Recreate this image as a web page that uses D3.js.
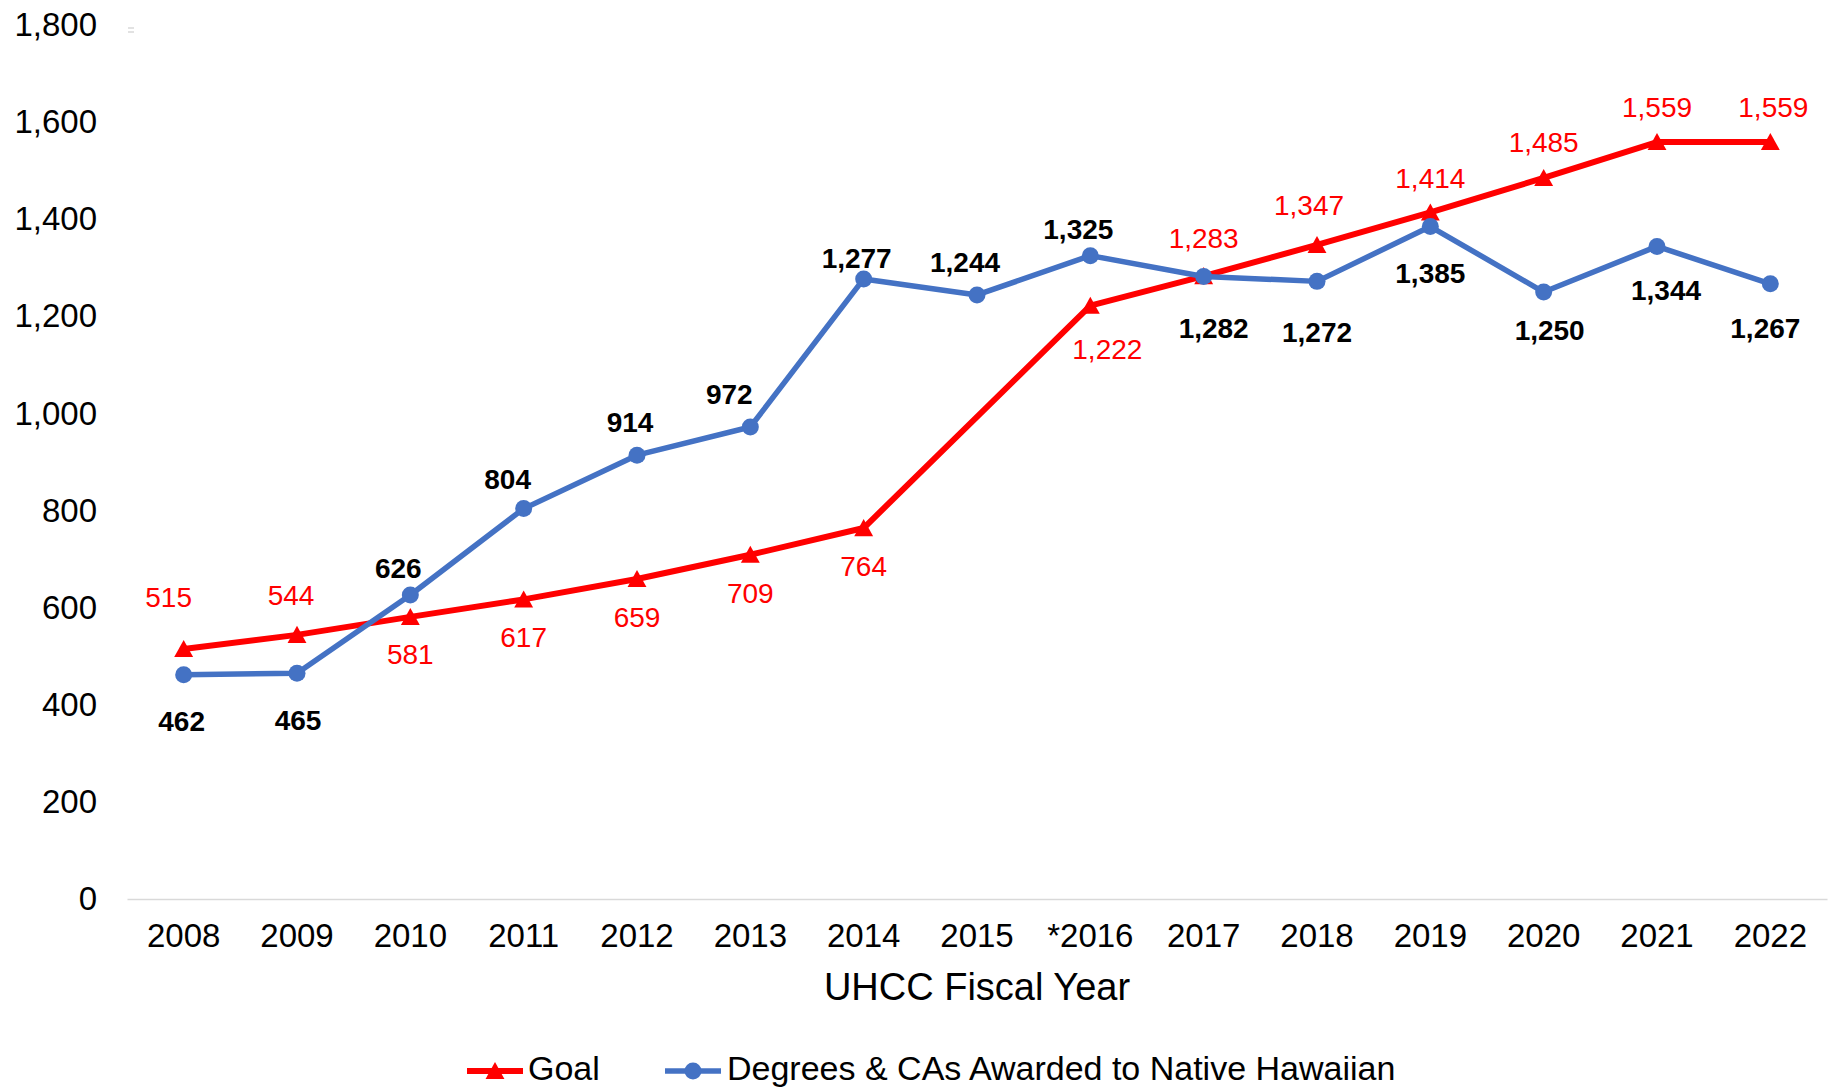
<!DOCTYPE html>
<html>
<head>
<meta charset="utf-8">
<script src="https://cdn.jsdelivr.net/npm/d3@7"></script>
<style>
  body { margin: 0; background: #fff; }
  svg { display: block; font-family: "Liberation Sans", Arial, sans-serif; }
</style>
</head>
<body>
<div id="chart"></div>
<script>
// Data
var years = ["2008", "2009", "2010", "2011", "2012", "2013", "2014", "2015", "*2016", "2017", "2018", "2019", "2020", "2021", "2022"];
var goal = [515, 544, 581, 617, 659, 709, 764, null, 1222, 1283, 1347, 1414, 1485, 1559, 1559];
var awarded = [462, 465, 626, 804, 914, 972, 1277, 1244, 1325, 1282, 1272, 1385, 1250, 1344, 1267];
var yTicks = [0, 200, 400, 600, 800, 1000, 1200, 1400, 1600, 1800];
var seriesNames = ["Goal", "Degrees & CAs Awarded to Native Hawaiian"];

// label nudges (px from the point, label centre)
var goalLabelDx = [-15, -6, 0, 0, 0, 0, 0, 0, 17, 0, -8, 0, 0, 0, 3];
var goalLabelDy = [-52, -40, 37, 38, 38, 38, 38, 0, 44, -38, -40, -34, -36, -35, -35];
var awardLabelDx = [-2, 1, -12, -16, -7, -21, -7, -12, -12, 10, 0, 0, 6, 9, -5];
var awardLabelDy = [47, 47, -27, -29, -33, -33, -21, -33, -26, 52, 51, 47, 38, 44, 44];

var width = 1829, height = 1089;
var red = "#ff0000", blue = "#4472c4";

var svg = d3.select("#chart").append("svg")
    .attr("width", width)
    .attr("height", height);

var x = d3.scaleBand()
    .domain(years)
    .range([127, 1827])
    .padding(0);

var y = d3.scaleLinear()
    .domain([0, 1800])
    .range([899, 25]);

var cx = d => x(d) + x.bandwidth() / 2;
var fmt = d3.format(",");

// y axis
var yAxis = svg.append("g")
    .attr("transform", "translate(127,0)")
    .call(d3.axisLeft(y).tickValues(yTicks).tickSize(0).tickPadding(30).tickFormat(fmt));
yAxis.select(".domain").remove();
yAxis.selectAll("text")
    .attr("fill", "#000")
    .style("font-size", "33px")
    .style("font-family", "Liberation Sans, Arial, sans-serif");

// x axis
var xAxis = svg.append("g")
    .attr("transform", "translate(0," + y(0) + ")")
    .call(d3.axisBottom(x).tickSize(0).tickSizeOuter(0).tickPadding(25));
xAxis.select(".domain")
    .attr("stroke", "#d9d9d9")
    .attr("stroke-width", 1.5);
xAxis.selectAll("text")
    .attr("fill", "#000")
    .style("font-size", "33px")
    .style("font-family", "Liberation Sans, Arial, sans-serif");

// small grey tick mark top left
svg.append("g").attr("stroke", "#d9d9d9").attr("stroke-width", 1.5)
    .selectAll("line").data([0, 1]).enter().append("line")
    .attr("x1", 128).attr("x2", 134)
    .attr("y1", (d, i) => 28 + i * 4).attr("y2", (d, i) => 28 + i * 4);

// axis title
svg.append("text")
    .attr("x", (127 + 1827) / 2)
    .attr("y", 1000)
    .attr("text-anchor", "middle")
    .style("font-size", "38px")
    .text("UHCC Fiscal Year");

function triangle(s) {
    return d3.line()([[0, -s], [s * 1.05, s * 0.9], [-s * 1.05, s * 0.9]]) + "Z";
}

var line = d3.line()
    .x(d => cx(d.year))
    .y(d => y(d.value));

var goalData = years.map((yr, i) => ({ year: yr, value: goal[i], dx: goalLabelDx[i], dy: goalLabelDy[i] }))
    .filter(d => d.value != null);
var awardData = years.map((yr, i) => ({ year: yr, value: awarded[i], dx: awardLabelDx[i], dy: awardLabelDy[i] }));

// goal series
svg.append("path")
    .datum(goalData)
    .attr("d", line)
    .attr("fill", "none")
    .attr("stroke", red)
    .attr("stroke-width", 6)
    .attr("stroke-linejoin", "round");

svg.selectAll(".goal-marker")
    .data(goalData)
    .enter().append("path")
    .attr("class", "goal-marker")
    .attr("transform", d => "translate(" + cx(d.year) + "," + y(d.value) + ")")
    .attr("d", triangle(9))
    .attr("fill", red);

// awarded series
svg.append("path")
    .datum(awardData)
    .attr("d", line)
    .attr("fill", "none")
    .attr("stroke", blue)
    .attr("stroke-width", 5.5)
    .attr("stroke-linejoin", "round");

svg.selectAll(".award-marker")
    .data(awardData)
    .enter().append("circle")
    .attr("class", "award-marker")
    .attr("cx", d => cx(d.year))
    .attr("cy", d => y(d.value))
    .attr("r", 8.5)
    .attr("fill", blue);

// labels
svg.selectAll(".goal-label")
    .data(goalData)
    .enter().append("text")
    .attr("class", "goal-label")
    .attr("x", d => cx(d.year) + d.dx)
    .attr("y", d => y(d.value) + d.dy)
    .attr("dy", "0.35em")
    .attr("text-anchor", "middle")
    .attr("fill", red)
    .style("font-size", "28px")
    .text(d => fmt(d.value));

svg.selectAll(".award-label")
    .data(awardData)
    .enter().append("text")
    .attr("class", "award-label")
    .attr("x", d => cx(d.year) + d.dx)
    .attr("y", d => y(d.value) + d.dy)
    .attr("dy", "0.35em")
    .attr("text-anchor", "middle")
    .attr("fill", "#000")
    .style("font-size", "28px")
    .style("font-weight", "bold")
    .text(d => fmt(d.value));

// legend
var legend = svg.append("g").attr("transform", "translate(0,1071)");
var legendItems = [
    { name: seriesNames[0], color: red, x: 467, shape: "triangle" },
    { name: seriesNames[1], color: blue, x: 665, shape: "circle" }
];
legendItems.forEach(item => {
    var g = legend.append("g").attr("transform", "translate(" + item.x + ",0)");
    g.append("line")
        .attr("x1", 0).attr("x2", 56)
        .attr("stroke", item.color)
        .attr("stroke-width", item.shape == "triangle" ? 6 : 5.5);
    if (item.shape == "triangle") {
        g.append("path").attr("transform", "translate(28,0)").attr("d", triangle(9)).attr("fill", item.color);
    } else {
        g.append("circle").attr("cx", 28).attr("r", 8.5).attr("fill", item.color);
    }
    g.append("text")
        .attr("x", item.shape == "triangle" ? 61 : 62)
        .attr("y", 9)
        .style("font-size", "34px")
        .text(item.name);
});
</script>
</body>
</html>
